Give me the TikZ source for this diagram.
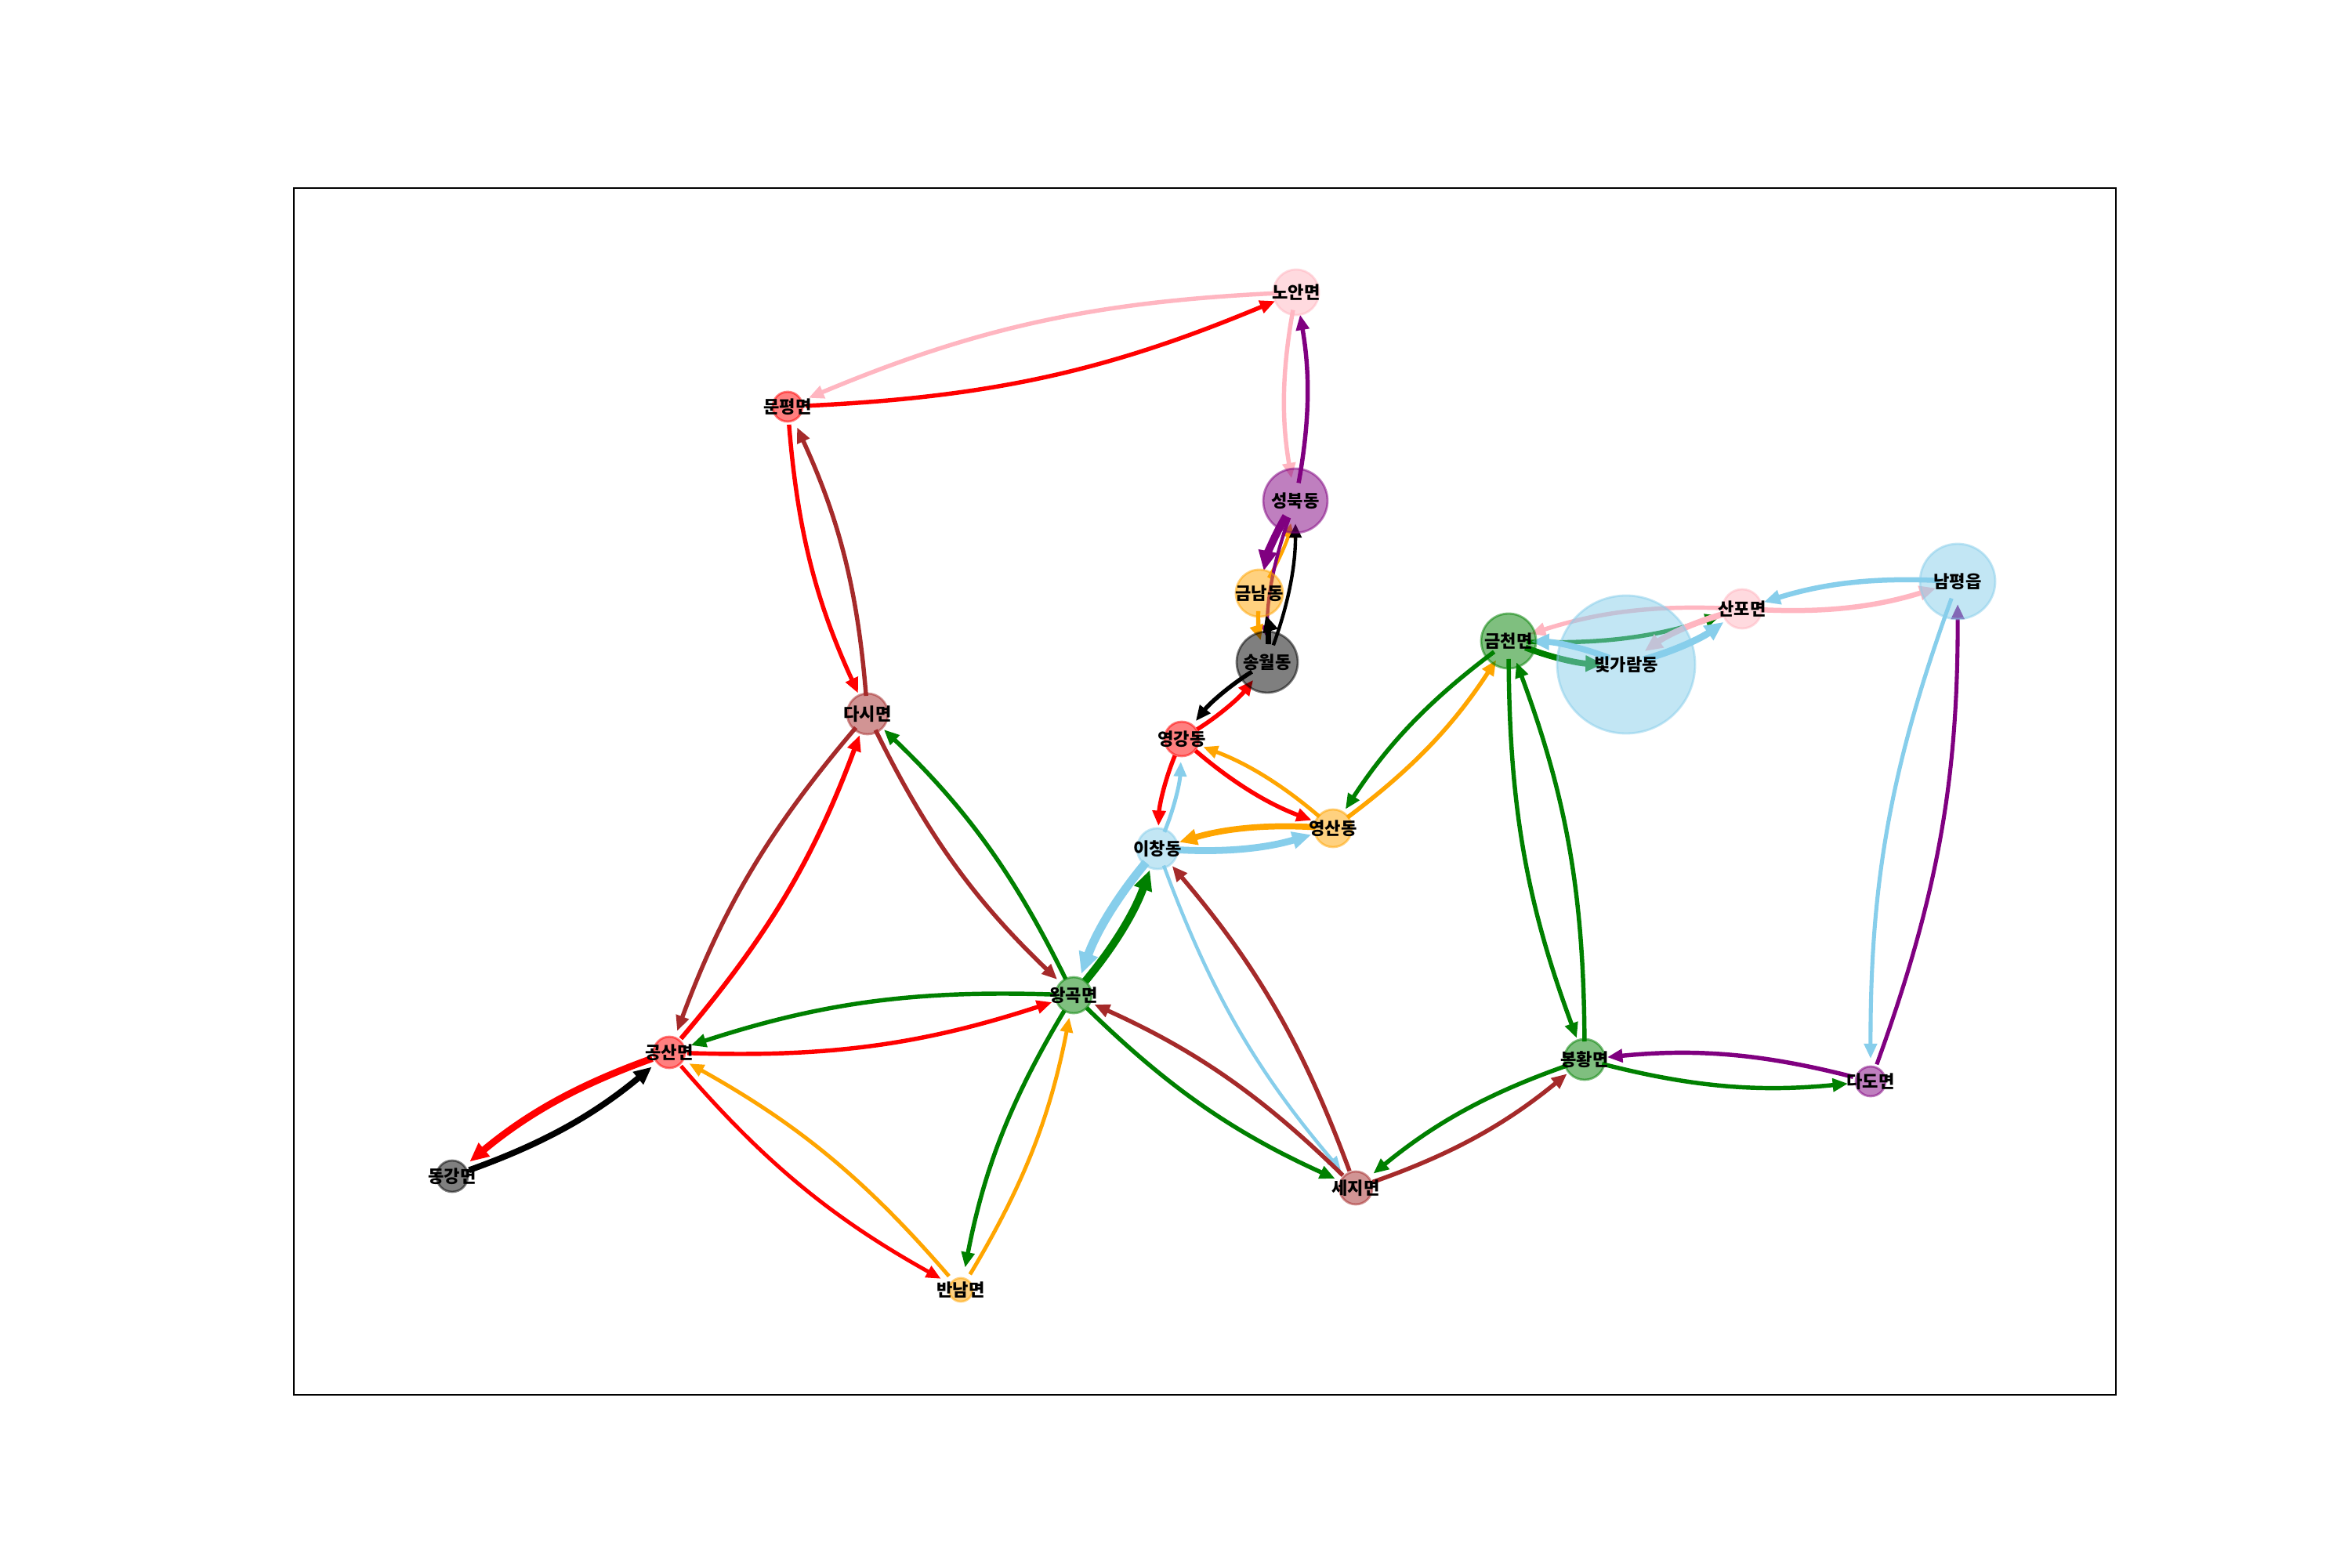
\documentclass[tikz,border=0pt]{standalone}
\usepackage{fontspec}
\usepackage{xcolor}
\usepackage{tikz}
\usetikzlibrary{arrows.meta,backgrounds}

\newfontfamily\krfont{Noto Sans CJK KR}
\newcommand{\townname}[1]{\makebox[0pt]{#1}}

\definecolor{cred}{HTML}{FF0000}
\definecolor{cpink}{HTML}{FFB6C1}
\definecolor{cpurple}{HTML}{800080}
\definecolor{corange}{HTML}{FFA500}
\definecolor{cblack}{HTML}{000000}
\definecolor{cbrown}{HTML}{A52A2A}
\definecolor{csky}{HTML}{87CEEB}
\definecolor{cgreen}{HTML}{008000}

\tikzset{
  town/.style={circle, inner sep=0pt, draw=#1, fill=#1, fill opacity=0.5,
    draw opacity=0.5, text opacity=1, line width=0.8pt,
    font=\krfont\bfseries\fontsize{6.3pt}{7pt}\selectfont},
  flow/.style={draw=#1, line width=1.55pt,
    -{Triangle[length=3.4pt 1.4, width=2.5pt 1.4]},
    shorten <=0.23cm, shorten >=0.29cm},
}

\begin{document}
\begin{tikzpicture}
      \useasboundingbox (0,0) rectangle (30,20);
      % Define nodes
      \node[town=cpink,   minimum size=0.58cm] (nohan)      at (16.54,16.27) {\townname{노안면}};
      \node[town=cred,    minimum size=0.38cm] (munpyeong)  at (10.05,14.81) {\townname{문평면}};
      \node[town=cpurple, minimum size=0.82cm] (seongbuk)   at (16.53,13.61) {\townname{성북동}};
      \node[town=corange, minimum size=0.60cm] (geumnam)    at (16.07,12.43) {\townname{금남동}};
      \node[town=cblack,  minimum size=0.78cm] (songwol)    at (16.17,11.55) {\townname{송월동}};
      \node[town=cbrown,  minimum size=0.52cm] (dasi)       at (11.07,10.89) {\townname{다시면}};
      \node[town=cred,    minimum size=0.44cm] (yeonggang)  at (15.08,10.57) {\townname{영강동}};
      \node[town=corange, minimum size=0.48cm] (yeongsan)   at (17.01,9.43)  {\townname{영산동}};
      \node[town=csky,    minimum size=0.52cm] (ichang)     at (14.77,9.17)  {\townname{이창동}};
      \node[town=cgreen,  minimum size=0.70cm] (geumcheon)  at (19.25,11.82) {\townname{금천면}};
      \node[town=csky,    minimum size=1.76cm] (bitgaram)   at (20.75,11.52) {\townname{빛가람동}};
      \node[town=cpink,   minimum size=0.50cm] (sanpo)      at (22.23,12.23) {\townname{산포면}};
      \node[town=csky,    minimum size=0.96cm] (nampyeong)  at (24.98,12.58) {\townname{남평읍}};
      \node[town=cgreen,  minimum size=0.46cm] (wanggok)    at (13.70,7.30)  {\townname{왕곡면}};
      \node[town=cred,    minimum size=0.40cm] (gongsan)    at (8.54,6.57)   {\townname{공산면}};
      \node[town=cblack,  minimum size=0.40cm] (donggang)   at (5.77,4.99)   {\townname{동강면}};
      \node[town=corange, minimum size=0.30cm] (bannam)     at (12.26,3.54)  {\townname{반남면}};
      \node[town=cbrown,  minimum size=0.42cm] (seji)       at (17.30,4.84)  {\townname{세지면}};
      \node[town=cgreen,  minimum size=0.52cm] (bonghwang)  at (20.22,6.48)  {\townname{봉황면}};
      \node[town=cpurple, minimum size=0.38cm] (dado)       at (23.87,6.20)  {\townname{다도면}};

      \begin{scope}[on background layer]
      \fill[white] (0,0) rectangle (30,20);
      \draw[line width=0.7pt] (3.75,2.2) rectangle (27.0,17.6);
      % Connect the nodes
      \draw[flow=cpink]   (nohan.center)     to[bend right=10] (munpyeong.center);
      \draw[flow=cred]    (munpyeong.center) to[bend right=10] (nohan.center);
      \draw[flow=cpink]   (nohan.center)     to[bend right=10] (seongbuk.center);
      \draw[flow=cpurple] (seongbuk.center)  to[bend right=10] (nohan.center);
      \draw[flow=cred]    (munpyeong.center) to[bend right=10] (dasi.center);
      \draw[flow=cbrown]  (dasi.center)      to[bend right=10] (munpyeong.center);
      \draw[flow=cpurple, line width=2.8pt] (seongbuk.center) to[bend right=10] (geumnam.center);
      \draw[flow=corange, line width=1.25pt] (geumnam.center) to[bend right=10] (seongbuk.center);
      \draw[flow=cpurple, line width=1.25pt] (seongbuk.center) to[bend right=10] (songwol.center);
      \draw[flow=cblack,  line width=1.25pt] (songwol.center) to[bend right=10] (seongbuk.center);
      \draw[flow=corange] (geumnam.center)   to[bend right=10] (songwol.center);
      \draw[flow=cblack,  line width=1.9pt] (songwol.center) to[bend right=10] (geumnam.center);
      \draw[flow=cblack]  (songwol.center)   to[bend right=10] (yeonggang.center);
      \draw[flow=cred]    (yeonggang.center) to[bend right=10] (songwol.center);
      \draw[flow=cred]    (yeonggang.center) to[bend right=10] (ichang.center);
      \draw[flow=csky, line width=1.4pt] (ichang.center) to[bend right=10] (yeonggang.center);
      \draw[flow=cred]    (yeonggang.center) to[bend right=10] (yeongsan.center);
      \draw[flow=corange, line width=1.4pt] (yeongsan.center) to[bend right=10] (yeonggang.center);
      \draw[flow=corange, line width=2.2pt] (yeongsan.center) to[bend right=10] (ichang.center);
      \draw[flow=csky,    line width=2.5pt] (ichang.center) to[bend right=10] (yeongsan.center);
      \draw[flow=cgreen]  (geumcheon.center) to[bend right=10] (yeongsan.center);
      \draw[flow=corange] (yeongsan.center)  to[bend right=10] (geumcheon.center);
      \draw[flow=csky,    line width=3.1pt] (ichang.center) to[bend right=10] (wanggok.center);
      \draw[flow=cgreen,  line width=2.8pt] (wanggok.center) to[bend right=10] (ichang.center);
      \draw[flow=csky,    line width=1.25pt] (ichang.center) to[bend right=10] (seji.center);
      \draw[flow=cbrown]  (seji.center)      to[bend right=10] (ichang.center);
      \draw[flow=cgreen]  (geumcheon.center) to[bend right=10] (bonghwang.center);
      \draw[flow=cgreen]  (bonghwang.center) to[bend right=10] (geumcheon.center);
      \draw[flow=cpink]   (sanpo.center)     to[bend right=10] (geumcheon.center);
      \draw[flow=cgreen]  (geumcheon.center) to[bend right=10] (sanpo.center);
      \draw[flow=csky,    line width=2.2pt] (bitgaram.center) to[bend right=10] (geumcheon.center);
      \draw[flow=cgreen,  line width=2.2pt] (geumcheon.center) to[bend right=10] (bitgaram.center);
      \draw[flow=csky,    line width=2.5pt] (bitgaram.center) to[bend right=10] (sanpo.center);
      \draw[flow=cpink,   line width=2.2pt] (sanpo.center) to[bend right=10] (bitgaram.center);
      \draw[flow=csky,    line width=1.85pt] (nampyeong.center) to[bend right=10] (sanpo.center);
      \draw[flow=cpink,   line width=1.85pt] (sanpo.center) to[bend right=10] (nampyeong.center);
      \draw[flow=csky,    line width=1.45pt] (nampyeong.center) to[bend right=10] (dado.center);
      \draw[flow=cpurple, line width=1.45pt] (dado.center) to[bend right=10] (nampyeong.center);
      \draw[flow=cbrown]  (dasi.center)      to[bend right=10] (gongsan.center);
      \draw[flow=cred, line width=1.7pt] (gongsan.center) to[bend right=10] (dasi.center);
      \draw[flow=cgreen]  (wanggok.center)   to[bend right=10] (gongsan.center);
      \draw[flow=cred]    (gongsan.center)   to[bend right=10] (wanggok.center);
      \draw[flow=cred,    line width=2.5pt] (gongsan.center) to[bend right=10] (donggang.center);
      \draw[flow=cblack,  line width=2.2pt] (donggang.center) to[bend right=10] (gongsan.center);
      \draw[flow=cred,    line width=1.4pt] (gongsan.center) to[bend right=10] (bannam.center);
      \draw[flow=corange, line width=1.4pt] (bannam.center) to[bend right=10] (gongsan.center);
      \draw[flow=cgreen]  (wanggok.center)   to[bend right=10] (bannam.center);
      \draw[flow=corange, line width=1.4pt] (bannam.center) to[bend right=10] (wanggok.center);
      \draw[flow=cbrown]  (dasi.center)      to[bend right=10] (wanggok.center);
      \draw[flow=cgreen]  (wanggok.center)   to[bend right=10] (dasi.center);
      \draw[flow=cgreen]  (wanggok.center)   to[bend right=10] (seji.center);
      \draw[flow=cbrown]  (seji.center)      to[bend right=10] (wanggok.center);
      \draw[flow=cgreen]  (bonghwang.center) to[bend right=10] (seji.center);
      \draw[flow=cbrown]  (seji.center)      to[bend right=10] (bonghwang.center);
      \draw[flow=cpurple] (dado.center)      to[bend right=10] (bonghwang.center);
      \draw[flow=cgreen]  (bonghwang.center) to[bend right=10] (dado.center);
      \end{scope}
\end{tikzpicture}
\end{document}
